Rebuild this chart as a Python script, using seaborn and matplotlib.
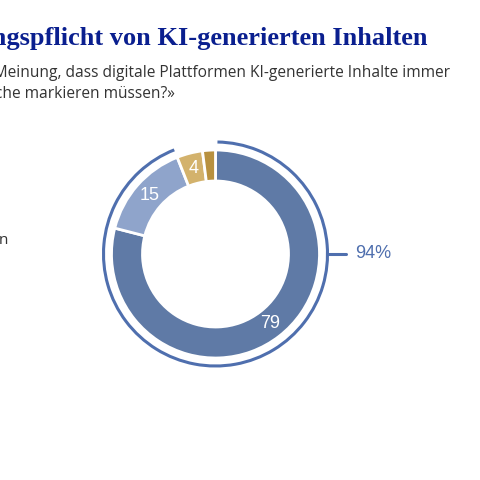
import matplotlib
matplotlib.use("Agg")
import matplotlib.pyplot as plt
import seaborn as sns
from matplotlib.patches import Arc

sns.set_style("white")

values = [79, 15, 4, 2]
labels = ["79", "15", "4", ""]
colors = ["#5f7aa6", "#8fa4cb", "#d3b26c", "#b8913f"]
total_label = "94%"
total_share = 94

title = "Kennzeichnungspflicht von KI-generierten Inhalten"
subtitle_1 = "«Sind Sie der Meinung, dass digitale Plattformen KI-generierte Inhalte immer"
subtitle_2 = "als solche markieren müssen?»"

H = 480
fig = plt.figure(figsize=(4.8, 4.8), dpi=100)
ax = fig.add_axes([0, 0, 1, 1])

cx, cy, r = 215.5, H - 254, 104
wedges, texts = ax.pie(values, labels=labels, colors=colors, startangle=90, counterclock=False,
                       center=(cx, cy), radius=r, labeldistance=0.85,
                       wedgeprops=dict(width=31, edgecolor="white", linewidth=2),
                       textprops=dict(color="white", fontsize=13, ha="center", va="center",
                                      family="Liberation Sans"))

# outer bracket arc for 94%
ro = 112
ax.add_patch(Arc((cx, cy), 2 * ro, 2 * ro, theta1=90 - 360 * total_share / 100 + 360, theta2=90 + 360 - 1,
                 color="#4f6fae", lw=2.2))
ax.plot([cx + ro, cx + ro + 18], [cy, cy], color="#4f6fae", lw=2.2)
ax.text(cx + ro + 28, cy, total_label, color="#4f6fae", fontsize=13, va="center", ha="left",
        family="Liberation Sans")

ax.text(427, H - 38, title, ha="right", va="center", fontsize=19, fontweight="bold",
        color="#0a1f8f", family="Liberation Serif")
ax.text(450, H - 73, subtitle_1, ha="right", va="center", fontsize=11.2, color="#333333",
        family="Open Sans")
ax.text(175, H - 94, subtitle_2, ha="right", va="center", fontsize=11.2, color="#333333",
        family="Open Sans")
ax.text(8, H - 241, "n", ha="right", va="center", fontsize=11, color="#333333", family="Open Sans")

ax.set_xlim(0, 480)
ax.set_ylim(0, 480)
ax.set_aspect("equal")
ax.axis("off")
fig.savefig("out.png", dpi=100)
